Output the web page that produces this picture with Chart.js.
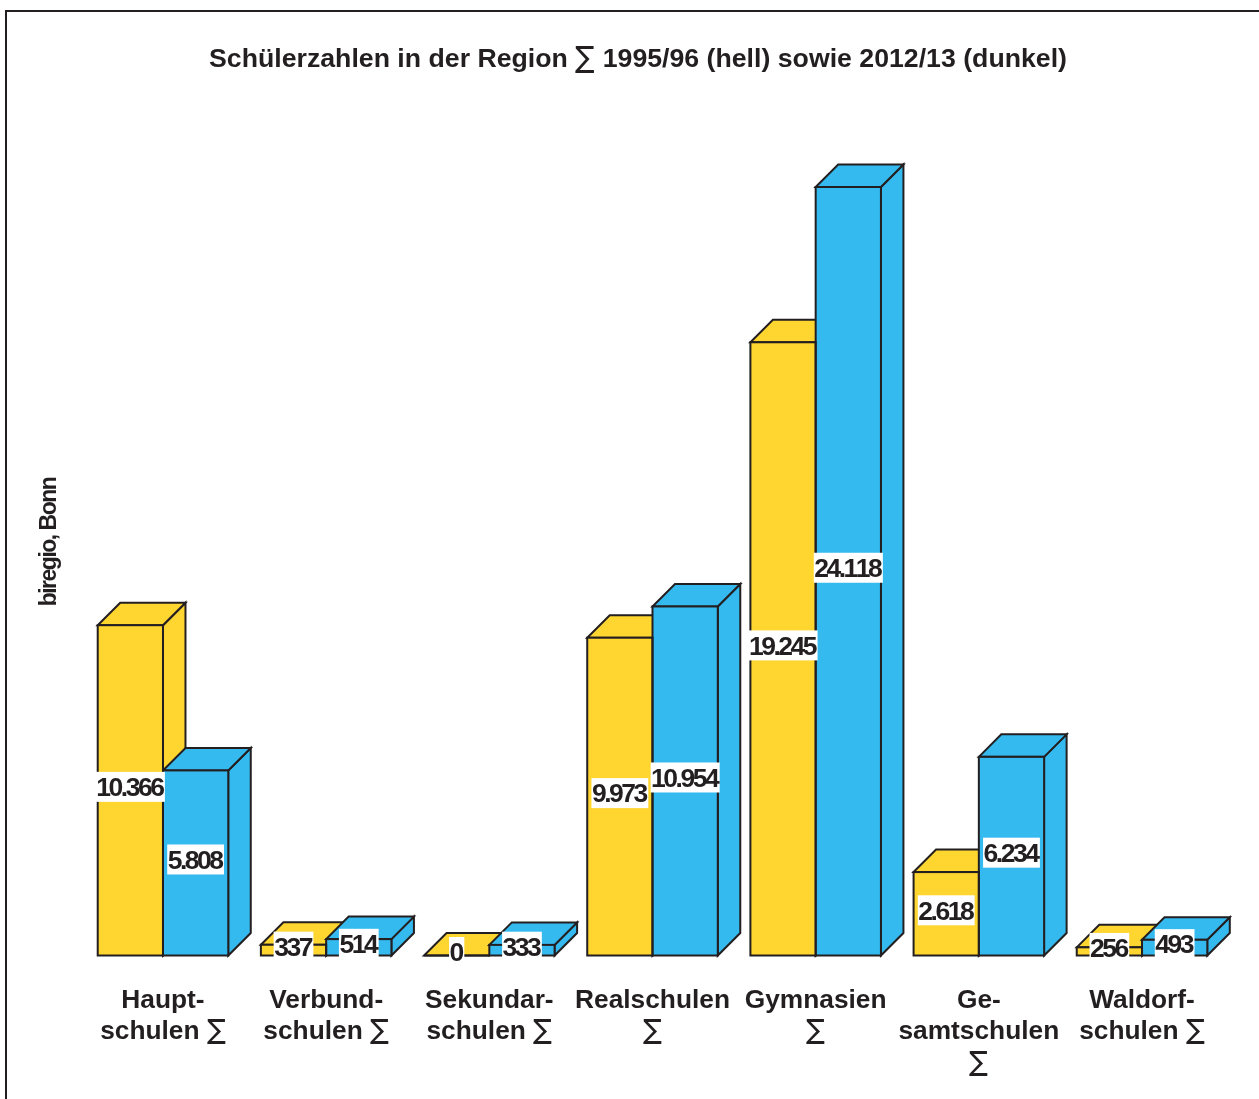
<!DOCTYPE html>
<html>
<head>
<meta charset="utf-8">
<script src="https://cdn.jsdelivr.net/npm/chart.js@4"></script>
<style>
	/* thin summation sign inside the bold labels */
	@font-face { font-family: "SumSign"; src: local("DejaVu Sans"); font-weight: bold; unicode-range: U+2211; size-adjust: 108%; }
	html, body { margin: 0; padding: 0; background: #fff; overflow: hidden; }
	#frame { position: absolute; left: 5px; top: 10px; right: -4px; bottom: -4px; border-left: 2px solid #231f20; border-top: 2px solid #231f20; }
	#myChart { position: absolute; left: 0; top: 0; }
</style>
</head>
<body>
<div id="frame"></div>
<canvas id="myChart" width="1259" height="1099"></canvas>
<script>
	var titleText = 'Schülerzahlen in der Region ∑ 1995/96 (hell) sowie 2012/13 (dunkel)';
	var sourceText = 'biregio, Bonn';
	var categories = [
		['Haupt-', 'schulen ∑'],
		['Verbund-', 'schulen ∑'],
		['Sekundar-', 'schulen ∑'],
		['Realschulen', '∑'],
		['Gymnasien', '∑'],
		['Ge-', 'samtschulen', '∑'],
		['Waldorf-', 'schulen ∑']
	];
	var values1995 = [10366, 337, 0, 9973, 19245, 2618, 256];
	var values2012 = [5808, 514, 333, 10954, 24118, 6234, 493];

	var INK = '#231f20';
	var DEPTH = 22.5;
	var FAMILY = '"SumSign", "Liberation Sans"';

	// 10366 -> 10.366
	function formatValue(v) {
		return String(v).replace(/\B(?=(\d{3})+$)/g, '.');
	}

	function poly(ctx, pts) {
		ctx.beginPath();
		ctx.moveTo(pts[0][0], pts[0][1]);
		for (var i = 1; i < pts.length; ++i) {
			ctx.lineTo(pts[i][0], pts[i][1]);
		}
		ctx.closePath();
		ctx.fill();
		ctx.stroke();
	}

	// fake 3D: side and top faces go under the bars, outlines and labels over them
	var blocks = {
		id: 'blocks',
		beforeDatasetsDraw: function(chart) {
			var ctx = chart.ctx;
			ctx.save();
			ctx.strokeStyle = INK;
			ctx.lineWidth = 2;
			chart.data.datasets.forEach(function(ds, d) {
				ctx.fillStyle = ds.backgroundColor;
				chart.getDatasetMeta(d).data.forEach(function(bar) {
					var p = bar.getProps(['x', 'y', 'base', 'width'], true);
					var l = p.x - p.width / 2, r = p.x + p.width / 2;
					poly(ctx, [[r, p.y], [r + DEPTH, p.y - DEPTH], [r + DEPTH, p.base - DEPTH], [r, p.base]]);
					poly(ctx, [[l, p.y], [l + DEPTH, p.y - DEPTH], [r + DEPTH, p.y - DEPTH], [r, p.y]]);
				});
			});
			ctx.restore();
		},
		afterDatasetsDraw: function(chart) {
			var ctx = chart.ctx;
			ctx.save();
			ctx.strokeStyle = INK;
			ctx.lineWidth = 2;
			chart.data.datasets.forEach(function(ds, d) {
				chart.getDatasetMeta(d).data.forEach(function(bar) {
					var p = bar.getProps(['x', 'y', 'base', 'width'], true);
					ctx.strokeRect(p.x - p.width / 2, p.y, p.width, p.base - p.y);
				});
			});
			ctx.restore();
		},
		afterDraw: function(chart) {
			var ctx = chart.ctx;
			ctx.save();
			ctx.textAlign = 'center';
			ctx.textBaseline = 'middle';

			// value labels on white boxes
			ctx.font = 'bold 26.5px "Liberation Sans"';
			ctx.fontKerning = 'none';
			ctx.letterSpacing = '-2.5px';
			chart.data.datasets.forEach(function(ds, d) {
				chart.getDatasetMeta(d).data.forEach(function(bar, i) {
					var p = bar.getProps(['x', 'y', 'base'], true);
					var txt = formatValue(ds.data[i]);
					var w = ctx.measureText(txt).width + 3;
					var cy = (p.y + p.base) / 2 - 3.5;
					ctx.fillStyle = '#fff';
					ctx.fillRect(p.x - w / 2, cy - 15, w, 30);
					ctx.fillStyle = INK;
					ctx.fillText(txt, p.x - 1, cy + 2);
				});
			});

			// source note along the left side
			ctx.translate(50, 542);
			ctx.rotate(-Math.PI / 2);
			ctx.font = 'bold 23px "Liberation Sans"';
			ctx.letterSpacing = '-1.5px';
			ctx.fillText(sourceText, 0, 0);
			ctx.restore();
		}
	};

	function build() {
		new Chart(document.getElementById('myChart').getContext('2d'), {
			type: 'bar',
			plugins: [blocks],
			data: {
				labels: categories,
				datasets: [
					{ label: '1995/96', data: values1995, backgroundColor: '#ffd530', borderWidth: 0 },
					{ label: '2012/13', data: values2012, backgroundColor: '#35baf0', borderWidth: 0 }
				]
			},
			options: {
				responsive: false,
				animation: false,
				layout: { padding: { left: 52.4, right: 35.4, top: 0, bottom: 0 } },
				datasets: { bar: { barPercentage: 1, categoryPercentage: 0.8 } },
				plugins: {
					legend: { display: false },
					tooltip: { enabled: false },
					title: {
						display: true,
						text: titleText,
						color: INK,
						font: { family: FAMILY, size: 26.7, weight: 'bold', lineHeight: 1.2 },
						padding: { top: 43.4, bottom: 83.46 }
					}
				},
				scales: {
					x: {
						grid: { display: false },
						border: { display: false },
						afterFit: function(scale) { scale.height = 143.5; },
						ticks: {
							color: INK,
							autoSkip: false,
							maxRotation: 0,
							padding: 21,
							font: { family: FAMILY, size: 26.3, weight: 'bold', lineHeight: 1.2 }
						}
					},
					y: {
						min: 0,
						max: 25000,
						grid: { display: false },
						border: { display: false },
						ticks: { display: false },
						afterFit: function(scale) { scale.width = 29; }
					}
				}
			}
		});
	}

	document.fonts.load('bold 26px SumSign', '∑').then(build, build);
</script>
</body>
</html>
